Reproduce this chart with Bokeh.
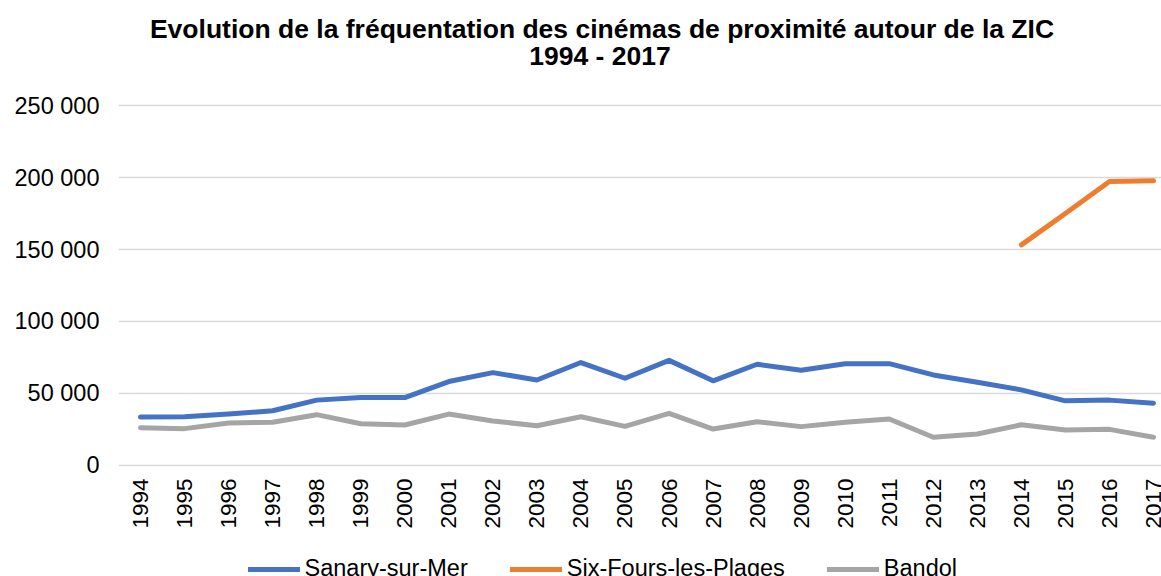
import math
from bokeh.plotting import figure
from bokeh.layouts import column
from bokeh.models import Range1d, FixedTicker, Legend, LegendItem, Label
from bokeh.embed import file_html
from bokeh.resources import INLINE

# ---- data ----
years = list(range(1994, 2018))
sanary = [33600, 33800, 35700, 38000, 45400, 47200, 47200, 58300, 64500, 59400,
          71500, 60600, 73000, 58800, 70300, 66100, 70700, 70700, 62900, 57800,
          52500, 44900, 45400, 43300]
six_fours_years = [2014, 2015, 2016, 2017]
six_fours = [153200, 175000, 197200, 197700]
bandol = [26300, 25600, 29500, 30000, 35300, 29000, 28100, 35700, 30900, 27600,
          33900, 27200, 36200, 25300, 30400, 27000, 30000, 32300, 19600, 21900,
          28300, 24700, 25100, 19600]
series_names = ["Sanary-sur-Mer", "Six-Fours-les-Plages", "Bandol"]
series_colors = ["#4472C4", "#ED7D31", "#A5A5A5"]
y_ticks = [0, 50000, 100000, 150000, 200000, 250000]
y_tick_labels = ["0", "50 000", "100 000", "150 000", "200 000", "250 000"]
title_lines = ["Evolution de la fréquentation des cinémas de proximité autour de la ZIC",
               "1994 - 2017"]

FONT = "Liberation Sans"
W = 1161
LEFT = 118
H_TOP, H_MAIN, H_LEG = 80, 456, 40


def blank(height):
    # frame spans x = LEFT..W (aligned with main chart), y = 0..height, in pixels
    f = figure(width=W, height=height, output_backend="svg", toolbar_location=None,
               title=None, x_range=Range1d(LEFT, W), y_range=Range1d(height, 0),
               min_border_left=LEFT, min_border_right=0, min_border_top=0,
               min_border_bottom=0)
    f.axis.visible = False
    f.grid.visible = False
    f.outline_line_color = None
    f.background_fill_color = "white"
    f.border_fill_color = "white"
    return f


# ---- title band ----
p0 = blank(H_TOP)
p0.add_layout(Label(x=601.5, y=28.5, text=title_lines[0], text_align="center",
                    text_baseline="alphabetic", text_font=FONT, text_font_size="26.5px",
                    text_font_style="bold", text_color="black"))
p0.add_layout(Label(x=599.5, y=55, text=title_lines[1], text_align="center",
                    text_baseline="alphabetic", text_font=FONT, text_font_size="26.5px",
                    text_font_style="bold", text_color="black"))

# ---- main chart ----
p = figure(width=W, height=H_MAIN, output_backend="svg", toolbar_location=None,
           x_range=Range1d(1993.5005, 2017.1816), y_range=Range1d(-1389, 251389),
           min_border_left=LEFT, min_border_right=0, min_border_top=23,
           min_border_bottom=69)
p.outline_line_color = None
p.background_fill_color = "white"
p.border_fill_color = "white"

r1 = p.line(years, sanary, line_width=5, color=series_colors[0], line_cap="round", line_join="round")
r2 = p.line(six_fours_years, six_fours, line_width=5, color=series_colors[1], line_cap="round", line_join="round")
r3 = p.line(years, bandol, line_width=5, color=series_colors[2], line_cap="round", line_join="round")

p.xgrid.visible = False
p.ygrid.ticker = FixedTicker(ticks=y_ticks)
p.ygrid.grid_line_color = "#d9d9d9"
p.ygrid.grid_line_width = 1.5

for ax in (p.xaxis[0], p.yaxis[0]):
    ax.axis_line_color = None
    ax.major_tick_line_color = None
    ax.minor_tick_line_color = None
    ax.major_tick_out = 0
    ax.major_tick_in = 0
    ax.major_label_text_font = FONT
    ax.major_label_text_color = "black"

p.xaxis.ticker = FixedTicker(ticks=years)
p.xaxis.major_label_overrides = {yr: str(yr) for yr in years}
p.xaxis.major_label_orientation = math.pi / 2
p.xaxis.major_label_text_font_size = "22.5px"
p.xaxis.major_label_standoff = 11

p.yaxis.ticker = FixedTicker(ticks=y_ticks)
p.yaxis.major_label_overrides = dict(zip(y_ticks, y_tick_labels))
p.yaxis.major_label_text_font_size = "23.5px"
p.yaxis.major_label_standoff = 19

# ---- legend band ----
p2 = blank(H_LEG)
l1 = p2.line(years, sanary, line_width=5, color=series_colors[0], line_cap="round")
l2 = p2.line(six_fours_years, six_fours, line_width=5, color=series_colors[1], line_cap="round")
l3 = p2.line(years, bandol, line_width=5, color=series_colors[2], line_cap="round")
legend = Legend(items=[LegendItem(label=series_names[0], renderers=[l1]),
                       LegendItem(label=series_names[1], renderers=[l2]),
                       LegendItem(label=series_names[2], renderers=[l3])],
                orientation="horizontal", location=(247.5 - LEFT, -6),
                glyph_width=52, glyph_height=24, label_height=24, label_standoff=5,
                spacing=42, padding=0, margin=0, border_line_color=None,
                background_fill_alpha=0, label_text_font=FONT,
                label_text_font_size="23.5px", label_text_color="black")
p2.add_layout(legend)

layout = column(p0, p, p2, spacing=0)
open("out.html", "w").write(file_html(layout, INLINE))
